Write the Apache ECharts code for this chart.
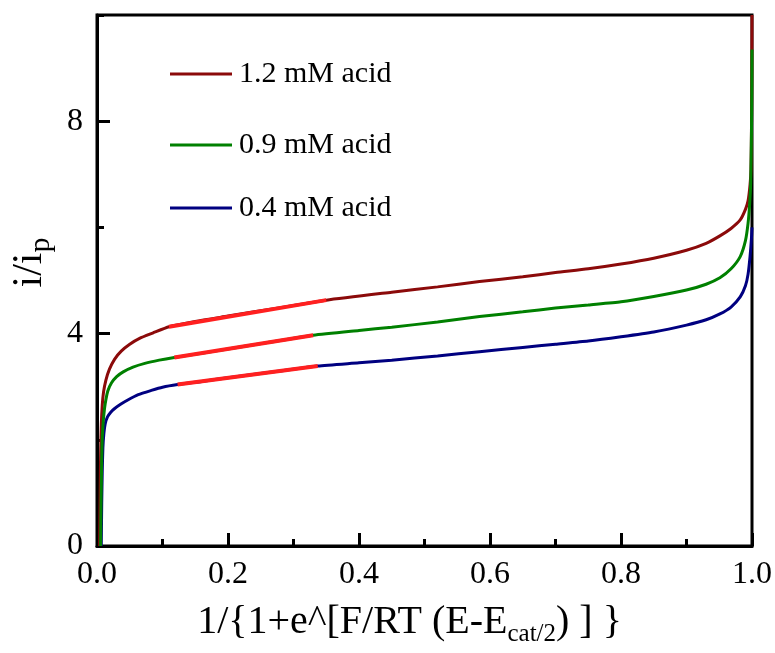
<!DOCTYPE html>
<html>
<head>
<meta charset="utf-8">
<script src="https://cdn.jsdelivr.net/npm/echarts@6/dist/echarts.min.js"></script>
<style>
html, body { margin: 0; padding: 0; background: #fff; }
#chart { width: 775px; height: 653px; }
</style>
</head>
<body>
<div id="chart"></div>
<script>
// measured curves, [x, i/ip]
const acid12 = [
	[0.004, 0], [0.0048, 1.0], [0.0056, 1.8], [0.0066, 2.3], [0.008, 2.65], [0.01, 2.9],
	[0.0135, 3.12], [0.019, 3.33], [0.027, 3.52], [0.037, 3.67], [0.05, 3.8], [0.065, 3.91],
	[0.085, 4.01], [0.11, 4.13], [0.15, 4.23], [0.2, 4.33], [0.275, 4.48], [0.35, 4.63],
	[0.45, 4.78], [0.52, 4.88], [0.584, 4.98], [0.65, 5.07], [0.7, 5.15], [0.75, 5.22],
	[0.8, 5.31], [0.85, 5.42], [0.9, 5.57], [0.93, 5.7], [0.951, 5.84], [0.968, 5.98],
	[0.982, 6.14], [0.99, 6.34], [0.994, 6.5], [0.997, 6.8], [0.9985, 7.1], [0.9993, 8.0],
	[0.9998, 9.0], [1.0, 10],
]
const acid09 = [
	[0.0055, 0], [0.0062, 0.8], [0.007, 1.5], [0.0078, 1.95], [0.009, 2.25], [0.0105, 2.48],
	[0.0125, 2.68], [0.0165, 2.92], [0.022, 3.07], [0.03, 3.19], [0.04, 3.28], [0.055, 3.37],
	[0.073, 3.44], [0.095, 3.5], [0.118, 3.55], [0.16, 3.63], [0.2, 3.71], [0.26, 3.83],
	[0.33, 3.97], [0.4, 4.06], [0.45, 4.12], [0.52, 4.22], [0.584, 4.32], [0.65, 4.41],
	[0.7, 4.48], [0.75, 4.54], [0.8, 4.6], [0.85, 4.7], [0.9, 4.82], [0.93, 4.93],
	[0.951, 5.05], [0.968, 5.22], [0.982, 5.45], [0.99, 5.75], [0.994, 6.08], [0.9965, 6.45],
	[0.998, 6.84], [0.9992, 7.8], [0.9998, 8.7], [1.0, 9.35],
]
const acid04 = [
	[0.0065, 0], [0.0072, 0.8], [0.008, 1.4], [0.009, 1.85], [0.0105, 2.12], [0.0125, 2.3],
	[0.016, 2.43], [0.021, 2.52], [0.027, 2.59], [0.036, 2.67], [0.047, 2.75], [0.063, 2.85],
	[0.083, 2.93], [0.1, 2.99], [0.123, 3.04], [0.16, 3.1], [0.2, 3.17], [0.27, 3.28],
	[0.337, 3.39], [0.4, 3.45], [0.45, 3.5], [0.52, 3.58], [0.584, 3.66], [0.65, 3.74],
	[0.7, 3.8], [0.75, 3.86], [0.8, 3.94], [0.85, 4.03], [0.9, 4.16], [0.93, 4.26],
	[0.951, 4.37], [0.968, 4.5], [0.982, 4.69], [0.99, 4.9], [0.994, 5.12], [0.997, 5.45],
	[0.9992, 5.8], [1.0, 6.0],
]
// linear fits (red overlays)
const fit12 = [[0.11, 4.13], [0.35, 4.63]]
const fit09 = [[0.118, 3.55], [0.33, 3.97]]
const fit04 = [[0.123, 3.04], [0.337, 3.39]]

const names = ['1.2 mM acid', '0.9 mM acid', '0.4 mM acid']
const colors = ['#8b0a0a', '#008000', '#000080']
const legendTops = [59, 130, 193]

const font = "'Liberation Serif', 'Times New Roman', serif"

const myChart = echarts.init(document.getElementById('chart'), null, { renderer: 'canvas' })

const legends = names.map((n, i) => ({
	data: [{ name: n, icon: 'rect' }],
	left: 170,
	top: legendTops[i],
	padding: 0,
	itemWidth: 62,
	itemHeight: 3,
	itemGap: 0,
	textStyle: { fontFamily: font, fontSize: 30, color: '#000', padding: [0, 0, 0, 2] },
}))

const fitLine = (data) => ({
	type: 'line',
	data: data,
	symbol: 'none',
	lineStyle: { color: '#ff2020', width: 4 },
	z: 5,
	silent: true,
})

const curve = (idx, data) => ({
	name: names[idx],
	type: 'line',
	data: data,
	symbol: 'none',
	smooth: 0.2,
	color: colors[idx],
	lineStyle: { width: 3 },
})

let option = {
	animation: false,
	grid: {
		left: 97,
		right: 23,
		top: 15,
		bottom: 107,
		show: true,
		borderColor: '#000',
		borderWidth: 3,
	},
	legend: legends,
	xAxis: {
		type: 'value',
		min: 0,
		max: 1,
		interval: 0.2,
		axisLine: { lineStyle: { color: '#000', width: 3 } },
		axisTick: { inside: true, length: 13, lineStyle: { color: '#000', width: 3 } },
		minorTick: { show: true, splitNumber: 2, length: 7, lineStyle: { color: '#000', width: 3 } },
		splitLine: { show: false },
		axisLabel: {
			formatter: (v) => v.toFixed(1),
			fontFamily: font,
			fontSize: 32,
			color: '#000',
			margin: 13,
		},
		name: '1/{1+e^[F/RT (E-E{b|cat/2}) ] }',
		nameLocation: 'middle',
		nameGap: 52,
		nameTextStyle: {
			fontFamily: font,
			fontSize: 40,
			color: '#000',
			padding: [0, 30, 0, 0],
			rich: {
				b: { fontFamily: font, fontSize: 25, color: '#000', padding: [24, 0, 0, 0] },
			},
		},
	},
	yAxis: [
		{
			type: 'value',
			min: 0,
			max: 10,
			interval: 4,
			axisLine: { show: true, lineStyle: { color: '#000', width: 3 } },
			axisTick: { show: true, inside: true, length: 13, lineStyle: { color: '#000', width: 3 } },
			splitLine: { show: false },
			axisLabel: {
				showMaxLabel: false,
				fontFamily: font,
				fontSize: 32,
				color: '#000',
				margin: 14,
			},
			name: 'i/i{p|p}',
			nameLocation: 'middle',
			nameRotate: 90,
			nameGap: 40,
			nameTextStyle: {
				fontFamily: font,
				fontSize: 42,
				color: '#000',
				padding: [0, 0, 0, 36],
				rich: {
					p: { fontFamily: font, fontSize: 30, color: '#000', padding: [22, 0, 0, 0] },
				},
			},
		},
		{
			type: 'value',
			position: 'left',
			min: 0,
			max: 10,
			interval: 2,
			axisLine: { show: false },
			axisTick: { show: true, inside: true, length: 7, lineStyle: { color: '#000', width: 3 } },
			axisLabel: { show: false },
			splitLine: { show: false },
		},
	],
	series: [
		curve(2, acid04),
		curve(0, acid12),
		curve(1, acid09),
		fitLine(fit12),
		fitLine(fit09),
		fitLine(fit04),
	],
}
myChart.setOption(option)

window.addEventListener('resize', () => {
	myChart.resize()
})
</script>
</body>
</html>
